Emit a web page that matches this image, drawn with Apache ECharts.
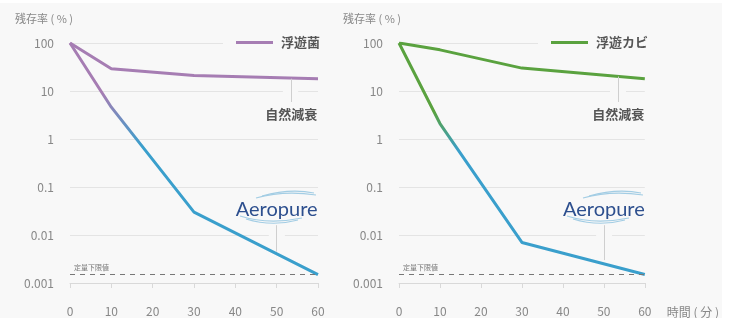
<!DOCTYPE html>
<html lang="ja">
<head>
<meta charset="utf-8">
<title>残存率</title>
<script src="https://cdn.jsdelivr.net/npm/echarts@6/dist/echarts.min.js"></script>
<style>
  body { margin: 0; background: #fff; }
  #main { position: absolute; left: 0; top: 3px; width: 722px; height: 315px; }
</style>
</head>
<body>
<div id="main"></div>
<script>
// 経過時間（分）
var minutes = [0, 10, 30, 60];
// 浮遊菌 残存率（%）
var bacteriaNatural = [100, 29, 21, 18];
var bacteriaAeropure = [100, 4.6, 0.03, 0.0015];
// 浮遊カビ 残存率（%）
var moldNatural = [100, 72, 30, 18];
var moldAeropure = [100, 2.1, 0.007, 0.0015];
// 定量下限値
var limitValue = 0.0015;

var FONT = '"Noto Sans CJK JP", "Noto Sans", sans-serif';
var BG = '#f8f8f8';
var PURPLE = '#a67db3';
var GREEN = '#5aa23f';
var BLUE = '#3a9fcc';

function pairs(xs, ys) {
    return xs.map(function (x, i) { return [x, ys[i]]; });
}

function fade(top, from, to) {
    return new echarts.graphic.LinearGradient(0, 0, 0, 1, [
        { offset: 0, color: top },
        { offset: from, color: top },
        { offset: to, color: BLUE },
        { offset: 1, color: BLUE }
    ]);
}

var myChart = echarts.init(document.getElementById('main'));

function xAxisOf(idx, withName) {
    var ax = {
        type: 'value', gridIndex: idx, min: 0, max: 60, interval: 10,
        axisLine: { lineStyle: { color: '#d9d9d9' } },
        axisTick: { show: true, length: 5, lineStyle: { color: '#d9d9d9' } },
        splitLine: { show: false },
        axisLabel: { margin: 22, color: '#888', fontSize: 12, fontFamily: FONT }
    };
    if (withName) {
        ax.name = '時間 ( 分 )';
        ax.nameLocation = 'end';
        ax.nameGap = 22;
        ax.nameTextStyle = { color: '#888', fontSize: 12, fontFamily: FONT,
            verticalAlign: 'top', padding: [23, 0, 0, 0] };
    }
    return ax;
}

function yAxisOf(idx) {
    return {
        type: 'log', logBase: 10, gridIndex: idx, min: 0.001, max: 100,
        axisLine: { show: false },
        axisTick: { show: false },
        splitLine: { lineStyle: { color: '#e4e4e4' } },
        axisLabel: {
            margin: 16, color: '#888', fontSize: 12, fontFamily: FONT,
            formatter: function (v) { return String(Number(v.toPrecision(1))); }
        }
    };
}

function legendOf(name, left) {
    return {
        data: [name], left: left, top: 29,
        padding: [4, 0, 4, 13], backgroundColor: BG,
        icon: 'rect', itemWidth: 37, itemHeight: 3, selectedMode: false,
        textStyle: { fontSize: 13, color: '#555', fontWeight: 'bold', fontFamily: FONT, padding: [0, 0, 0, 3] }
    };
}

var thinLine = { color: '#cfcfcf', width: 1, type: 'solid' };

function naturalMark(top) {
    return {
        silent: true, symbol: ['none', 'none'],
        data: [[
            { coord: [53.5, top], lineStyle: thinLine,
              label: { show: true, position: 'end', distance: 6, formatter: '自然減衰',
                       fontSize: 13, fontWeight: 'bold', color: '#555', fontFamily: FONT } },
            { coord: [53.5, 5.9] }
        ]]
    };
}

function aeroMark(bottom) {
    return {
        silent: true, symbol: ['none', 'none'],
        data: [
            [
                { coord: [0, limitValue],
                  lineStyle: { color: '#777', width: 1, type: [5, 5] },
                  label: { show: true, position: 'insideStartTop', distance: 4, formatter: '定量下限値',
                           fontSize: 7, color: '#777', fontFamily: FONT } },
                { coord: [60, limitValue] }
            ],
            [
                { coord: [50, 0.016], lineStyle: thinLine,
                  label: { show: true, position: 'start', distance: 6, formatter: 'Aeropure',
                           fontSize: 20, color: '#2d4f8e', fontFamily: 'Lato, sans-serif' } },
                { coord: [50, bottom] }
            ]
        ]
    };
}

function gapSeries(idx, natLo, natHi, aeroLo, aeroHi) {
    return {
        type: 'line', xAxisIndex: idx, yAxisIndex: idx, data: [], z: 1, silent: true,
        markArea: {
            silent: true,
            itemStyle: { color: BG },
            data: [
                [{ coord: [natLo, 8.7] }, { coord: [natHi, 11.5] }],
                [{ coord: [aeroLo, 0.0087] }, { coord: [aeroHi, 0.0115] }]
            ]
        }
    };
}

function swoosh(dx) {
    var s = { stroke: '#a3cde4', lineWidth: 1.2, fill: null };
    return [
        { type: 'bezierCurve', shape: { x1: 256 + dx, y1: 195, x2: 316 + dx, y2: 192, cpx1: 284 + dx, cpy1: 187 }, style: s, silent: true },
        { type: 'bezierCurve', shape: { x1: 262 + dx, y1: 193, x2: 314 + dx, y2: 190, cpx1: 290 + dx, cpy1: 185 }, style: s, silent: true },
        { type: 'bezierCurve', shape: { x1: 240 + dx, y1: 213, x2: 302 + dx, y2: 215, cpx1: 268 + dx, cpy1: 222 }, style: s, silent: true },
        { type: 'bezierCurve', shape: { x1: 246 + dx, y1: 216, x2: 298 + dx, y2: 217, cpx1: 272 + dx, cpy1: 224 }, style: s, silent: true }
    ];
}

myChart.setOption({
    backgroundColor: BG,
    animation: false,
    title: [
        { text: '残存率 ( % )', left: 15, top: 10, padding: 0,
          textStyle: { fontSize: 11, color: '#888', fontWeight: 'normal', fontFamily: FONT } },
        { text: '残存率 ( % )', left: 343, top: 10, padding: 0,
          textStyle: { fontSize: 11, color: '#888', fontWeight: 'normal', fontFamily: FONT } }
    ],
    legend: [legendOf('浮遊菌', 223), legendOf('浮遊カビ', 538)],
    grid: [
        { left: 70, top: 40, width: 248, height: 240 },
        { left: 399, top: 40, width: 247, height: 240 }
    ],
    xAxis: [xAxisOf(0, false), xAxisOf(1, true)],
    yAxis: [yAxisOf(0), yAxisOf(1)],
    graphic: swoosh(0).concat(swoosh(327)),
    series: [
        gapSeries(0, 51.5, 55.2, 48.1, 52.0),
        gapSeries(1, 51.5, 55.4, 48.1, 52.0),
        {
            name: '浮遊菌', type: 'line', xAxisIndex: 0, yAxisIndex: 0, z: 2,
            data: pairs(minutes, bacteriaNatural), symbol: 'none',
            itemStyle: { color: PURPLE }, lineStyle: { color: PURPLE, width: 3 },
            markLine: naturalMark(18)
        },
        {
            name: '浮遊菌 Aeropure', type: 'line', xAxisIndex: 0, yAxisIndex: 0, z: 2,
            data: pairs(minutes, bacteriaAeropure), symbol: 'none',
            itemStyle: { color: BLUE }, lineStyle: { color: fade(PURPLE, 0.22, 0.45), width: 3 },
            markLine: aeroMark(0.0045)
        },
        {
            name: '浮遊カビ', type: 'line', xAxisIndex: 1, yAxisIndex: 1, z: 2,
            data: pairs(minutes, moldNatural), symbol: 'none',
            itemStyle: { color: GREEN }, lineStyle: { color: GREEN, width: 3 },
            markLine: naturalMark(20)
        },
        {
            name: '浮遊カビ Aeropure', type: 'line', xAxisIndex: 1, yAxisIndex: 1, z: 2,
            data: pairs(minutes, moldAeropure), symbol: 'none',
            itemStyle: { color: BLUE }, lineStyle: { color: fade(GREEN, 0.3, 0.47), width: 3 },
            markLine: aeroMark(0.003)
        }
    ]
});
</script>
</body>
</html>
